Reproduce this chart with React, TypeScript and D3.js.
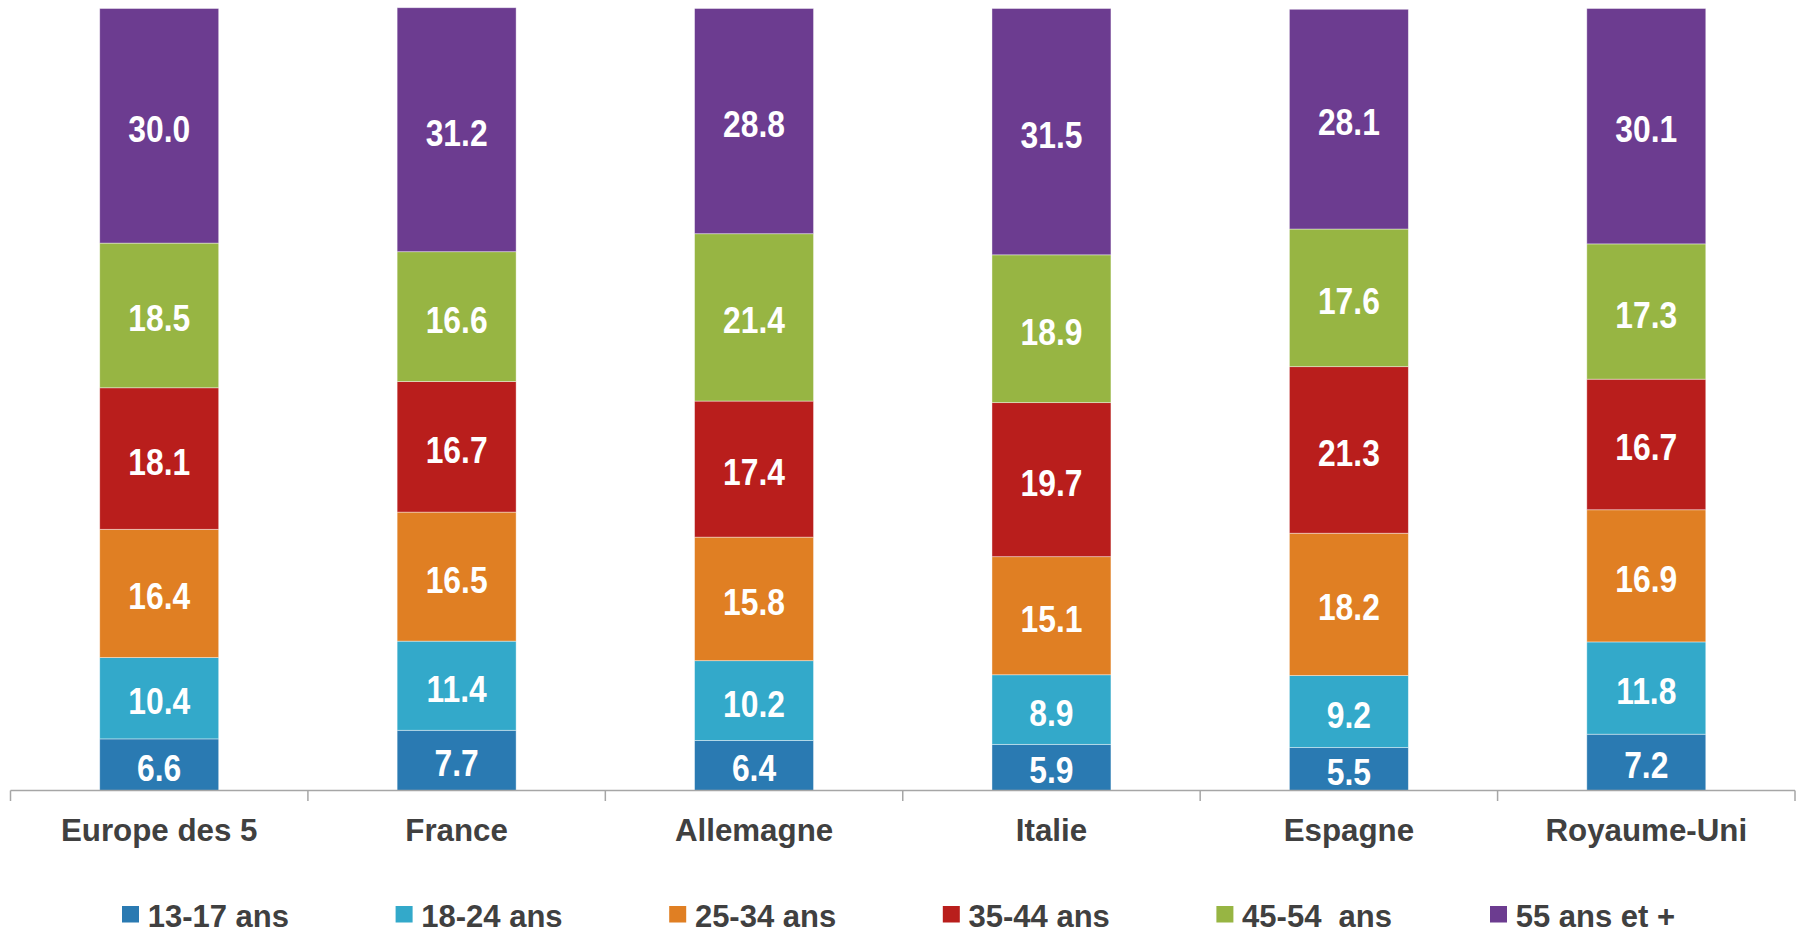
import React from "react";
import * as d3 from "d3";

const categories = ["Europe des 5", "France", "Allemagne", "Italie", "Espagne", "Royaume-Uni"];
const seriesNames = ["13-17 ans", "18-24 ans", "25-34 ans", "35-44 ans", "45-54  ans", "55 ans et +"];
const seriesColors = ["#2A7AB2", "#33A9CA", "#E07F23", "#B91E1C", "#97B543", "#6C3C90"];

const v13_17 = [6.6, 7.7, 6.4, 5.9, 5.5, 7.2];
const v18_24 = [10.4, 11.4, 10.2, 8.9, 9.2, 11.8];
const v25_34 = [16.4, 16.5, 15.8, 15.1, 18.2, 16.9];
const v35_44 = [18.1, 16.7, 17.4, 19.7, 21.3, 16.7];
const v45_54 = [18.5, 16.6, 21.4, 18.9, 17.6, 17.3];
const v55 = [30.0, 31.2, 28.8, 31.5, 28.1, 30.1];

const seriesValues = [v13_17, v18_24, v25_34, v35_44, v45_54, v55];

const W = 1802;
const H = 934;
const FONT = "'Liberation Sans', Arial, sans-serif";

export default function App() {
  const x = d3
    .scaleBand<string>()
    .domain(categories)
    .range([10.5, 1795])
    .paddingInner(0.6)
    .paddingOuter(0.3);
  const y = d3.scaleLinear().domain([0, 100]).range([790.5, 8.5]);

  const rows = categories.map((c, i) => {
    const r: any = { cat: c };
    seriesNames.forEach((s, j) => (r[s] = seriesValues[j][i]));
    return r;
  });
  const stacked = d3.stack<any>().keys(seriesNames)(rows);

  const step = x.step();
  const [r0, r1] = x.range();
  const ticks = d3.range(categories.length + 1).map((i) => r0 + i * step);

  const legendStart = 122;
  const legendStep = 273.6;

  return (
    <svg width={W} height={H} style={{ position: "absolute", left: 0, top: 0, background: "#fff" }}>
      {stacked.map((layer, j) => (
        <g key={layer.key}>
          {layer.map((d, i) => (
            <rect
              key={i}
              x={x(categories[i])}
              y={y(d[1])}
              width={x.bandwidth()}
              height={y(d[0]) - y(d[1])}
              fill={seriesColors[j]}
              stroke="#ffffff"
              strokeOpacity={0.5}
              strokeWidth={0.8}
            />
          ))}
        </g>
      ))}
      {stacked.map((layer, j) => (
        <g key={"l" + layer.key}>
          {layer.map((d, i) => {
            const cx = (x(categories[i]) as number) + x.bandwidth() / 2;
            const cy = (y(d[0]) + y(d[1])) / 2 + 16;
            return (
              <text
                key={i}
                transform={`translate(${cx},${cy}) scale(0.86,1)`}
                textAnchor="middle"
                fill="#ffffff"
                fontFamily={FONT}
                fontWeight="bold"
                fontSize={37}
              >
                {seriesValues[j][i].toFixed(1)}
              </text>
            );
          })}
        </g>
      ))}
      <line x1={r0} x2={r1} y1={790.5} y2={790.5} stroke="#A6A6A6" strokeWidth={1.5} />
      {ticks.map((t, i) => (
        <line key={i} x1={t} x2={t} y1={790.5} y2={801} stroke="#A6A6A6" strokeWidth={1.5} />
      ))}
      {categories.map((c) => (
        <text
          key={c}
          x={(x(c) as number) + x.bandwidth() / 2}
          y={840.7}
          textAnchor="middle"
          fill="#404040"
          fontFamily={FONT}
          fontWeight="bold"
          fontSize={31.3}
        >
          {c}
        </text>
      ))}
      {seriesNames.map((s, j) => (
        <g key={s} transform={`translate(${legendStart + j * legendStep},0)`}>
          <rect x={0} y={906} width={17} height={16.5} fill={seriesColors[j]} />
          <text
            x={25.7}
            y={927.3}
            fill="#404040"
            fontFamily={FONT}
            fontWeight="bold"
            fontSize={31}
            style={{ whiteSpace: "pre" }}
          >
            {s}
          </text>
        </g>
      ))}
    </svg>
  );
}
